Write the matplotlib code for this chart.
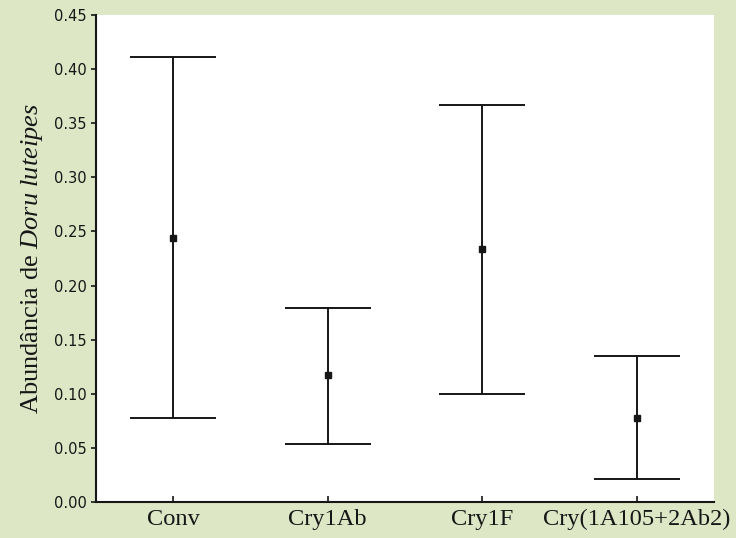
import matplotlib
matplotlib.use("Agg")

import matplotlib.pyplot as plt
from matplotlib.ticker import FormatStrFormatter


# Mean abundance with lower / upper interval limits per cultivar
cultivars = ["Conv", "Cry1Ab", "Cry1F", "Cry(1A105+2Ab2)"]
means = [0.244, 0.117, 0.234, 0.078]
lower = [0.0775, 0.054, 0.100, 0.021]
upper = [0.411, 0.179, 0.367, 0.1345]
yticks = [0.00, 0.05, 0.10, 0.15, 0.20, 0.25, 0.30, 0.35, 0.40, 0.45]

plt.rcParams["mathtext.fontset"] = "custom"
plt.rcParams["mathtext.rm"] = "Liberation Serif"
plt.rcParams["mathtext.it"] = "Liberation Serif:italic"

BG = "#dde6c5"
INK = "#161616"

fig = plt.figure(figsize=(7.36, 5.38), dpi=100, facecolor=BG)
ax = fig.add_axes([0.1304, 0.0669, 0.8397, 0.9052])
ax.set_facecolor("white")

x = list(range(len(cultivars)))
yerr = [[m - lo for m, lo in zip(means, lower)],
        [hi - m for m, hi in zip(means, upper)]]
ax.errorbar(x, means, yerr=yerr, fmt="s", color=INK, ecolor=INK,
            markersize=5, elinewidth=1.4, capsize=31.3, capthick=1.4)

ax.set_xlim(-0.5, 3.5)
ax.set_ylim(0, 0.45)
ax.set_yticks(yticks)
ax.yaxis.set_major_formatter(FormatStrFormatter("%.2f"))
ax.set_xticks(x)
ax.set_xticklabels(cultivars, family="Liberation Serif", fontsize=17.6)

for side in ["top", "right"]:
    ax.spines[side].set_visible(False)
for side in ["left", "bottom"]:
    ax.spines[side].set_linewidth(1.5)
    ax.spines[side].set_color(INK)

ax.tick_params(axis="x", direction="in", length=4, width=1.2, pad=5,
               colors=INK)
ax.tick_params(axis="y", direction="out", length=3.5, width=1.2, pad=3.2,
               colors=INK, labelsize=10.5)
for lab in ax.get_yticklabels():
    lab.set_family("DejaVu Sans")

ax.set_ylabel(r"Abundância de $\mathit{Doru\ luteipes}$",
              family="Liberation Serif", fontsize=19, color=INK)
ax.yaxis.set_label_coords(-0.0825, 0.5)

fig.savefig("out.png", dpi=100, facecolor=BG)
